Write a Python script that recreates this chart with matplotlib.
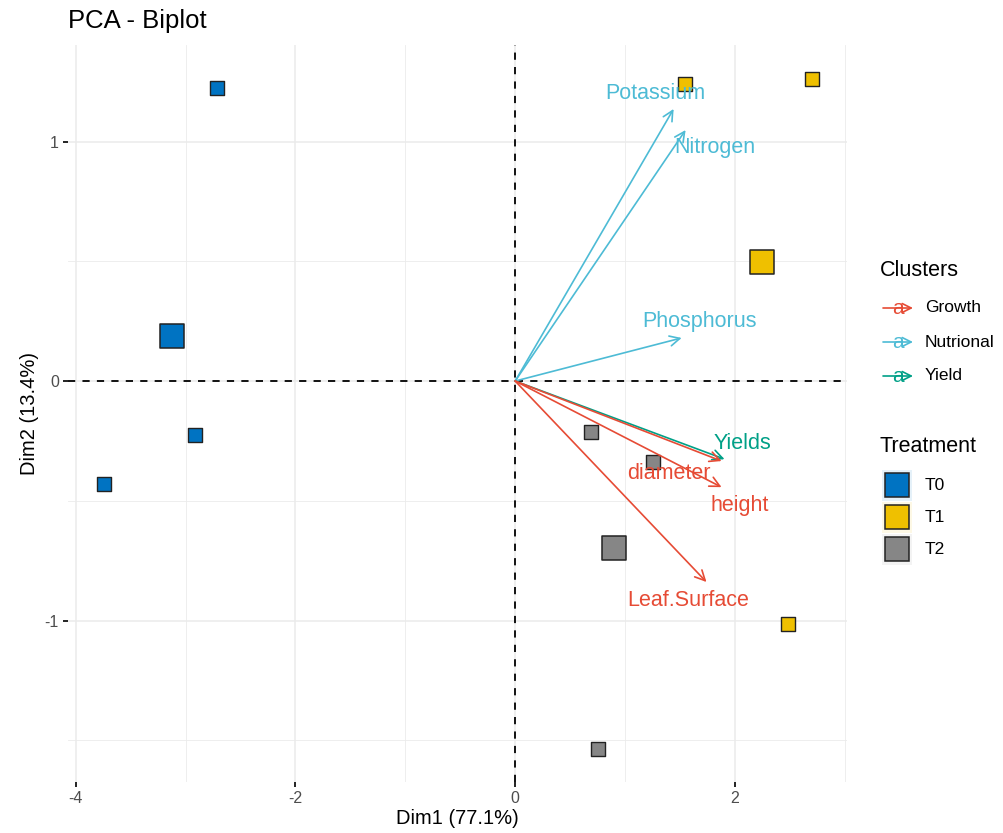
import matplotlib
matplotlib.use("Agg")
import matplotlib.pyplot as plt
from matplotlib.patches import FancyArrowPatch, Rectangle
from matplotlib.ticker import MultipleLocator

plt.rcParams['font.family'] = ['Liberation Sans', 'DejaVu Sans']
plt.rcParams['axes.unicode_minus'] = False

# Individuals (PCA scores) by treatment
treatments = ["T0", "T1", "T2"]
ind_dim1 = {
    "T0": [-2.71, -2.91, -3.74],
    "T1": [1.55, 2.70, 2.48],
    "T2": [0.69, 1.25, 0.75],
}
ind_dim2 = {
    "T0": [1.223, -0.225, -0.430],
    "T1": [1.240, 1.261, -1.015],
    "T2": [-0.213, -0.338, -1.537],
}

# Variables (loadings) and their clusters
variables = ["Potassium", "Nitrogen", "Phosphorus", "Yields",
             "diameter", "height", "Leaf.Surface"]
var_dim1 = [1.442, 1.551, 1.515, 1.905, 1.878, 1.878, 1.741]
var_dim2 = [1.136, 1.048, 0.180, -0.326, -0.334, -0.443, -0.839]
var_cluster = ["Nutrional", "Nutrional", "Nutrional", "Yield",
               "Growth", "Growth", "Growth"]
clusters = ["Growth", "Nutrional", "Yield"]

dim1_label = "Dim1 (77.1%)"
dim2_label = "Dim2 (13.4%)"

# Styling
cluster_colors = {"Growth": "#E64B35", "Nutrional": "#4DBBD5", "Yield": "#00A087"}
treat_colors = {"T0": "#0073C2", "T1": "#EFC000", "T2": "#868686"}
treat_key_bg = {"T0": "#E5F1F9", "T1": "#FDF8E5", "T2": "#F3F3F3"}
label_offsets = {  # text placement relative to arrow tips (data units)
    "Potassium": (-0.17, 0.063), "Nitrogen": (0.27, -0.075),
    "Phosphorus": (0.165, 0.067), "Yields": (0.165, 0.067),
    "diameter": (-0.48, -0.05), "height": (0.165, -0.075),
    "Leaf.Surface": (-0.165, -0.079),
}

W, H = 1004, 833
fig = plt.figure(figsize=(W / 100, H / 100), dpi=100)
L, R, T, B = 68, 847, 45, 782
ax = fig.add_axes([L / W, 1 - B / H, (R - L) / W, (B - T) / H])
ax.set_xlim(-4.07, 3.02)
ax.set_ylim(-1.674, 1.403)

for s in ax.spines.values():
    s.set_visible(False)
ax.xaxis.set_major_locator(MultipleLocator(2))
ax.xaxis.set_minor_locator(MultipleLocator(1))
ax.yaxis.set_major_locator(MultipleLocator(1))
ax.yaxis.set_minor_locator(MultipleLocator(0.5))
ax.grid(which="major", color="#EBEBEB", lw=1.1, zorder=0)
ax.grid(which="minor", color="#EBEBEB", lw=0.6, zorder=0)
ax.set_axisbelow(True)
ax.tick_params(which="major", length=3.5, width=1.4, color="#222222",
               labelcolor="#4D4D4D", labelsize=11.5, pad=3)
ax.tick_params(which="minor", length=0)

ax.axhline(0, color="black", lw=1.3, dashes=(4, 4), zorder=2)
ax.axvline(0, color="black", lw=1.3, dashes=(4, 4), zorder=2)

# Individuals and group centroids
for t in treatments:
    xs, ys = ind_dim1[t], ind_dim2[t]
    ax.scatter(xs, ys, marker="s", s=88, color=treat_colors[t],
               edgecolor="#222222", linewidth=1.0, zorder=3)
    cx, cy = sum(xs) / len(xs), sum(ys) / len(ys)
    ax.scatter([cx], [cy], marker="s", s=300, color=treat_colors[t],
               edgecolor="#222222", linewidth=1.1, zorder=3)

# Variable arrows and labels
for name, vx, vy, cl in zip(variables, var_dim1, var_dim2, var_cluster):
    col = cluster_colors[cl]
    arr = FancyArrowPatch((0, 0), (vx, vy), arrowstyle="->,head_length=0.4,head_width=0.2",
                          mutation_scale=18, color=col, lw=1.2,
                          shrinkA=0, shrinkB=0, zorder=4)
    ax.add_patch(arr)
    dx, dy = label_offsets[name]
    ax.text(vx + dx, vy + dy, name, color=col, fontsize=15.5,
            ha="center", va="center", zorder=5)

ax.set_xlabel(dim1_label, fontsize=14.5, color="black", labelpad=2)
ax.set_ylabel(dim2_label, fontsize=14.5, color="black", labelpad=4)
fig.text(L / W, 1 - 21 / H, "PCA - Biplot", fontsize=18.5, ha="left", va="center")

# Legend: clusters
def fx(px):
    return px / W

def fy(py):
    return 1 - py / H

fig.text(fx(880), fy(270), "Clusters", fontsize=15.5, ha="left", va="center")
for i, cl in enumerate(clusters):
    y = 308 + i * 34
    col = cluster_colors[cl]
    fig.add_artist(FancyArrowPatch((fx(883), fy(y)), (fx(913), fy(y)),
                                   transform=fig.transFigure,
                                   arrowstyle="->,head_length=0.4,head_width=0.2",
                                   mutation_scale=16, color=col, lw=1.2,
                                   shrinkA=0, shrinkB=0))
    fig.text(fx(898), fy(y + 1), "a", color=col, fontsize=15,
             ha="center", va="center")
    fig.text(fx(925), fy(y), cl, fontsize=12.5, ha="left", va="center")

# Legend: treatments
fig.text(fx(880), fy(446), "Treatment", fontsize=15.5, ha="left", va="center")
for i, t in enumerate(treatments):
    y = 485 + i * 32
    fig.add_artist(Rectangle((fx(882), fy(y + 15.5)), 30 / W, 31 / H,
                             transform=fig.transFigure,
                             facecolor=treat_key_bg[t], edgecolor="none"))
    fig.add_artist(Rectangle((fx(885), fy(y + 12)), 24 / W, 24 / H,
                             transform=fig.transFigure,
                             facecolor=treat_colors[t], edgecolor="#222222", lw=1.1))
    fig.text(fx(925), fy(y), t, fontsize=12.5, ha="left", va="center")

fig.savefig("out.png", dpi=100, facecolor="white")
